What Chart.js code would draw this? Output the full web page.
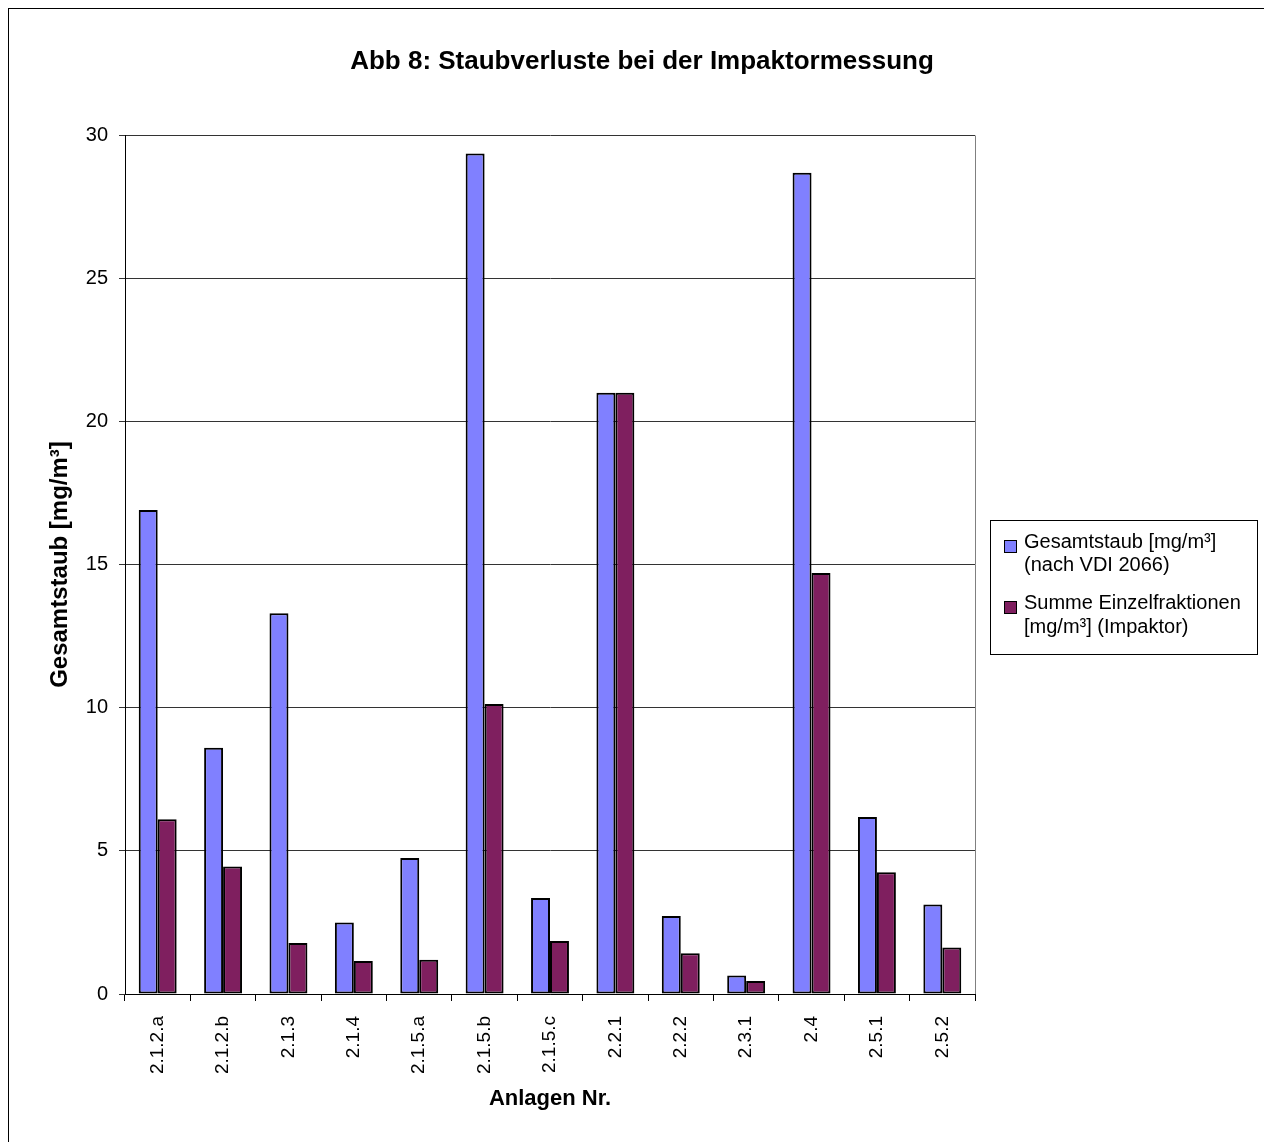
<!DOCTYPE html>
<html>
<head>
<meta charset="utf-8">
<script src="https://cdn.jsdelivr.net/npm/chart.js@4/dist/chart.umd.min.js"></script>
<style>
html,body{margin:0;padding:0;background:#fff;}
#wrap{width:1264px;height:1142px;position:relative;}
</style>
</head>
<body>
<div id="wrap"><canvas id="c" width="1264" height="1142"></canvas></div>
<script>
const chartTitle = 'Abb 8: Staubverluste bei der Impaktormessung';
const xTitle = 'Anlagen Nr.';
const yTitle = 'Gesamtstaub [mg/m³]';
const categories = ['2.1.2.a','2.1.2.b','2.1.3','2.1.4','2.1.5.a','2.1.5.b','2.1.5.c','2.2.1','2.2.2','2.3.1','2.4','2.5.1','2.5.2'];
const gesamtstaub = [16.9, 8.6, 13.3, 2.5, 4.75, 29.35, 3.35, 21.0, 2.72, 0.65, 28.68, 6.18, 3.13];
const summeEinzelfraktionen = [6.1, 4.45, 1.78, 1.15, 1.2, 10.13, 1.85, 21.0, 1.42, 0.45, 14.7, 4.25, 1.62];
const seriesNames = [['Gesamtstaub [mg/m³]','(nach VDI 2066)'], ['Summe Einzelfraktionen','[mg/m³] (Impaktor)']];
const seriesColors = ['#8080FF', '#7F1F5F'];
const yTicks = [0, 5, 10, 15, 20, 25, 30];

const FONT = "'Liberation Sans', Arial, sans-serif";

const decoPlugin = {
  id: 'deco',
  beforeDraw(chart) {
    const ctx = chart.ctx;
    ctx.save();
    ctx.fillStyle = '#fff';
    ctx.fillRect(0, 0, chart.width, chart.height);
    ctx.strokeStyle = '#000';
    ctx.lineWidth = 1;
    ctx.strokeRect(8.5, 8.5, chart.width + 20, chart.height + 20);
    ctx.restore();
  },
  afterDraw(chart) {
    const ctx = chart.ctx;
    const a = chart.chartArea;
    ctx.save();
    ctx.strokeStyle = '#808080';
    ctx.lineWidth = 1;
    ctx.beginPath();
    ctx.moveTo(Math.round(a.right) + 0.5, Math.round(a.top) + 0.5);
    ctx.lineTo(Math.round(a.right) + 0.5, Math.round(a.bottom));
    ctx.stroke();
    ctx.fillStyle = '#000';
    ctx.font = 'bold 26px ' + FONT;
    ctx.textAlign = 'center';
    ctx.textBaseline = 'middle';
    ctx.fillText(chartTitle, 642, 62);
    const lx = 990.5, ly = 520.5, lw = 267, lh = 134;
    ctx.strokeStyle = '#000';
    ctx.strokeRect(lx, ly, lw, lh);
    ctx.font = '20px ' + FONT;
    ctx.textAlign = 'left';
    ctx.textBaseline = 'middle';
    const rows = [[542, 565], [603, 627]];
    chart.data.datasets.forEach((ds, i) => {
      const lines = seriesNames[i];
      const sy = rows[i][0] + 4;
      ctx.fillStyle = ds.backgroundColor;
      ctx.fillRect(1004, sy - 6, 13, 13);
      ctx.strokeStyle = '#000';
      ctx.lineWidth = 1;
      ctx.strokeRect(1004.5, sy - 5.5, 12, 12);
      ctx.fillStyle = '#000';
      lines.forEach((t, j) => ctx.fillText(t, 1024, rows[i][j]));
    });
    ctx.restore();
  }
};

new Chart(document.getElementById('c'), {
  type: 'bar',
  data: {
    labels: categories,
    datasets: [
      { label: seriesNames[0].join(' '), data: gesamtstaub, backgroundColor: seriesColors[0], borderColor: '#000', borderWidth: 2, borderSkipped: false },
      { label: seriesNames[1].join(' '), data: summeEinzelfraktionen, backgroundColor: seriesColors[1], borderColor: '#000', borderWidth: 2, borderSkipped: false }
    ]
  },
  options: {
    responsive: false,
    animation: false,
    devicePixelRatio: 1,
    categoryPercentage: 0.58,
    barPercentage: 1.0,
    layout: { padding: { top: 135, right: 289, left: 0, bottom: 0 } },
    plugins: {
      legend: { display: false },
      title: { display: false },
      tooltip: { enabled: false }
    },
    scales: {
      x: {
        grid: { display: true, drawOnChartArea: false, drawTicks: true, tickLength: 7, color: '#000', offset: true },
        border: { display: true, color: '#000', width: 1 },
        ticks: { minRotation: 90, maxRotation: 90, autoSkip: false, color: '#000', padding: 15, font: { family: FONT, size: 19 } },
        title: { display: true, text: xTitle, color: '#000', font: { family: FONT, size: 22, weight: 'bold' }, padding: { top: 0, bottom: 30 } },
        afterFit(s) { s.height = 148; }
      },
      y: {
        min: 0, max: 30,
        afterBuildTicks(s) { s.ticks = yTicks.map(v => ({ value: v })); },
        grid: { color: '#333', drawTicks: true, tickLength: 6, lineWidth: 1 },
        border: { display: true, color: '#000', width: 1 },
        ticks: { color: '#000', padding: 11, font: { family: FONT, size: 20 } },
        title: { display: true, text: yTitle, color: '#000', font: { family: FONT, size: 24, weight: 'bold' }, padding: { top: 46, bottom: 0 } },
        afterFit(s) { s.width = 125; }
      }
    }
  },
  plugins: [decoPlugin]
});
</script>
</body>
</html>
